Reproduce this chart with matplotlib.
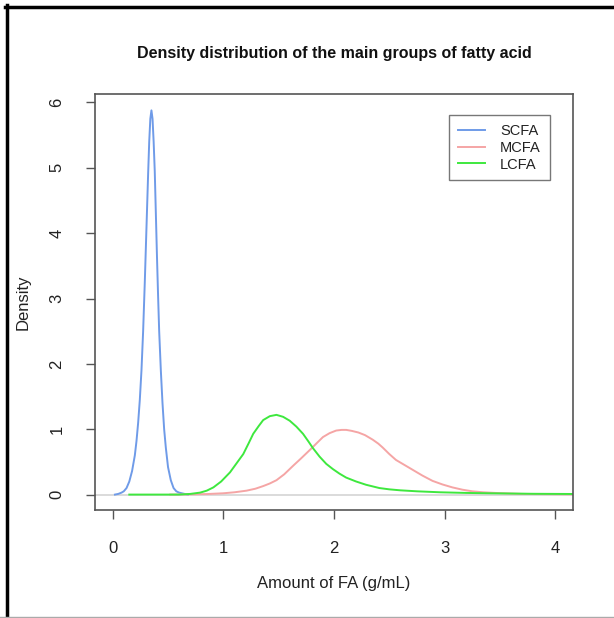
import matplotlib
matplotlib.use("Agg")
import matplotlib.pyplot as plt
from matplotlib.lines import Line2D

plt.rcParams['font.family'] = ['Liberation Sans', 'DejaVu Sans']

# density curves (x in g/mL, y = density)
scfa_x = [0.02, 0.05, 0.08, 0.10, 0.125, 0.15, 0.175, 0.20, 0.215, 0.23, 0.245, 0.26,
          0.275, 0.29, 0.30, 0.31, 0.32, 0.33, 0.34, 0.35, 0.36, 0.37, 0.38, 0.39,
          0.40, 0.41, 0.42, 0.435, 0.45, 0.465, 0.48, 0.50, 0.525, 0.55, 0.575, 0.60,
          0.65, 0.68]
scfa_y = [0.00, 0.01, 0.03, 0.05, 0.10, 0.20, 0.36, 0.60, 0.82, 1.10, 1.45, 1.90,
          2.50, 3.25, 3.80, 4.35, 4.90, 5.40, 5.75, 5.88, 5.75, 5.40, 4.95, 4.30,
          3.65, 3.05, 2.50, 1.90, 1.40, 1.00, 0.72, 0.42, 0.22, 0.10, 0.05, 0.03,
          0.01, 0.00]

mcfa_x = [0.52, 0.70, 0.85, 1.00, 1.10, 1.21, 1.29, 1.36, 1.42, 1.48, 1.55, 1.63,
          1.70, 1.78, 1.84, 1.90, 1.96, 2.02, 2.07, 2.11, 2.16, 2.22, 2.28, 2.35,
          2.40, 2.44, 2.50, 2.56, 2.63, 2.71, 2.80, 2.89, 2.98, 3.07, 3.16, 3.25,
          3.35, 3.46, 3.70, 4.00, 4.30]
mcfa_y = [0.00, 0.003, 0.008, 0.02, 0.035, 0.06, 0.09, 0.13, 0.17, 0.22, 0.31, 0.44,
          0.55, 0.68, 0.78, 0.88, 0.94, 0.98, 0.99, 0.99, 0.975, 0.95, 0.91, 0.84,
          0.78, 0.72, 0.62, 0.53, 0.46, 0.38, 0.29, 0.21, 0.155, 0.11, 0.075, 0.05,
          0.035, 0.025, 0.01, 0.005, 0.0]

lcfa_x = [0.15, 0.60, 0.70, 0.79, 0.85, 0.91, 0.98, 1.06, 1.12, 1.18, 1.23, 1.27,
          1.32, 1.36, 1.42, 1.48, 1.54, 1.60, 1.66, 1.72, 1.77, 1.81, 1.87, 1.93,
          1.99, 2.05, 2.11, 2.20, 2.29, 2.41, 2.50, 2.60, 2.75, 2.96, 3.20, 3.40,
          3.80, 4.30]
lcfa_y = [0.00, 0.00, 0.01, 0.03, 0.06, 0.11, 0.20, 0.34, 0.48, 0.62, 0.79, 0.93,
          1.05, 1.14, 1.20, 1.22, 1.19, 1.13, 1.04, 0.93, 0.81, 0.71, 0.58, 0.47,
          0.39, 0.32, 0.26, 0.20, 0.15, 0.10, 0.08, 0.065, 0.05, 0.035, 0.025, 0.02,
          0.012, 0.008]

series_names = ['SCFA', 'MCFA', 'LCFA']
series_colors = ['#6f9be8', '#f5a5a5', '#3ee83e']
x_ticks = [0, 1, 2, 3, 4]
y_ticks = [0, 1, 2, 3, 4, 5, 6]

fig = plt.figure(figsize=(6.14, 6.18), dpi=100)
ax = fig.add_axes([95 / 614, 1 - 510 / 618, 478 / 614, 416 / 618])

# zero line like R's plot.density
ax.axhline(0, color='#d4d4d4', lw=1.2, zorder=1)

for xs, ys, col in zip([scfa_x, mcfa_x, lcfa_x], [scfa_y, mcfa_y, lcfa_y], series_colors):
    ax.plot(xs, ys, color=col, lw=1.4, zorder=2)

ax.set_xlim(-0.16, 4.16)
ax.set_ylim(-0.236, 6.13)

ax.set_xticks(x_ticks)
ax.set_yticks(y_ticks)
ax.set_yticklabels([str(v) for v in y_ticks], rotation=90, va='center')
ax.tick_params(axis='both', length=6.5, width=1, color='#555555', labelsize=12,
               labelcolor='#222222', pad=15.5)

for s in ax.spines.values():
    s.set_color('#555555')
    s.set_linewidth(1.2)

ax.set_title('Density distribution of the main groups of fatty acid',
             fontsize=11.5, fontweight='bold', color='#111111', pad=26)
ax.set_xlabel('Amount of FA (g/mL)', fontsize=12, color='#222222', labelpad=15)
ax.set_ylabel('Density', fontsize=12, color='#222222', labelpad=13.5)

handles = [Line2D([], [], color=c, lw=1.4) for c in series_colors]
leg = ax.legend(handles, series_names, loc='upper left',
                bbox_to_anchor=((449 - 95) / 478, (510 - 115) / 416),
                fontsize=10.5, frameon=True, fancybox=False, edgecolor='#555555',
                handlelength=1.9, handletextpad=1.0, labelspacing=0.2,
                borderpad=0.6, borderaxespad=0)
leg.get_frame().set_linewidth(1.0)
for t in leg.get_texts():
    t.set_color('#222222')

# frame around the screenshot
fig.add_artist(Line2D([6.5 / 614, 6.5 / 614], [0, 1 - 5 / 618], color='black', lw=2.5,
                      transform=fig.transFigure))
fig.add_artist(Line2D([5 / 614, 1], [1 - 6.5 / 618, 1 - 6.5 / 618], color='black', lw=2.5,
                      transform=fig.transFigure))
fig.add_artist(Line2D([0, 1], [1.5 / 618, 1.5 / 618], color='#aaaaaa', lw=1,
                      transform=fig.transFigure))

fig.savefig('out.png', dpi=100)
